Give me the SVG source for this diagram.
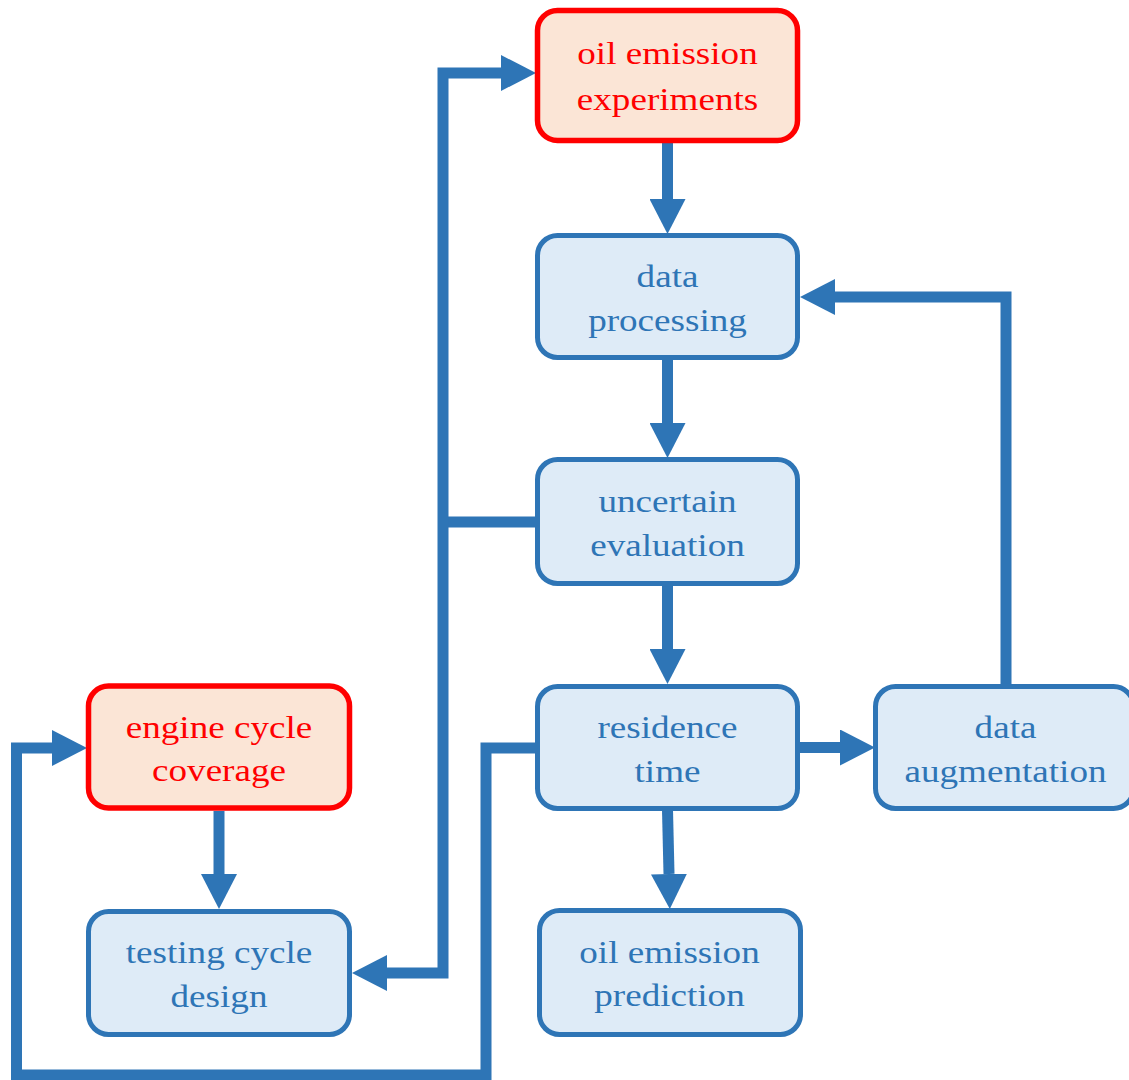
<svg xmlns="http://www.w3.org/2000/svg" width="1129" height="1080" viewBox="0 0 1129 1080">
<style>
.nb rect{fill:#DEEBF7;stroke:#2E75B6;stroke-width:5}
.nr rect{fill:#FBE5D6;stroke:#FF0000;stroke-width:5.5}
text{font-family:"Liberation Serif","Times New Roman",serif;font-size:32px;text-anchor:middle}
.nb text{fill:#2E75B6}
.nr text{fill:#FF0000}
#connectors path{fill:none;stroke:#2E75B6;stroke-width:11;stroke-linejoin:miter}
</style>
<defs>
<marker id="ah" viewBox="0 0 35 36" refX="0" refY="18" markerWidth="35" markerHeight="36" markerUnits="userSpaceOnUse" orient="auto">
<path d="M0,0 L35,18 L0,36 z" fill="#2E75B6"/>
</marker>
</defs>
<rect width="1129" height="1080" fill="#FFFFFF"/>
<g id="connectors">
<path d="M667.5,143 V199" marker-end="url(#ah)"/>
<path d="M667.5,359 V423" marker-end="url(#ah)"/>
<path d="M667.5,585 V649" marker-end="url(#ah)"/>
<path d="M667.5,810 L669,874" marker-end="url(#ah)"/>
<path d="M799,747.5 H840" marker-end="url(#ah)"/>
<path d="M1006,685 V297 H835" marker-end="url(#ah)"/>
<path d="M537,522 H443"/>
<path d="M443,522 V73 H501" marker-end="url(#ah)"/>
<path d="M443,522 V973 H387" marker-end="url(#ah)"/>
<path d="M537,748 H486 V1075 H16.5 V748 H52" marker-end="url(#ah)"/>
<path d="M219,811 V874" marker-end="url(#ah)"/>
</g>
<g id="oil-emission-experiments" class="nr">
<rect x="537.5" y="10.5" width="260" height="130" rx="20"/>
<text transform="translate(667.5,0) scale(1.16,1)"><tspan x="0" y="64">oil emission</tspan><tspan x="0" y="110">experiments</tspan></text>
</g>
<g id="data-processing" class="nb">
<rect x="537.5" y="235.5" width="260" height="122" rx="20"/>
<text transform="translate(667.5,0) scale(1.16,1)"><tspan x="0" y="287">data</tspan><tspan x="0" y="331">processing</tspan></text>
</g>
<g id="uncertain-evaluation" class="nb">
<rect x="537.5" y="459.5" width="260" height="124" rx="20"/>
<text transform="translate(667.5,0) scale(1.16,1)"><tspan x="0" y="512.5">uncertain</tspan><tspan x="0" y="556.5">evaluation</tspan></text>
</g>
<g id="residence-time" class="nb">
<rect x="537.5" y="686.5" width="260" height="122" rx="20"/>
<text transform="translate(667.5,0) scale(1.16,1)"><tspan x="0" y="738">residence</tspan><tspan x="0" y="782">time</tspan></text>
</g>
<g id="data-augmentation" class="nb">
<rect x="875.5" y="686.5" width="258" height="122" rx="20"/>
<text transform="translate(1005.5,0) scale(1.16,1)"><tspan x="0" y="738">data</tspan><tspan x="0" y="782">augmentation</tspan></text>
</g>
<g id="oil-emission-prediction" class="nb">
<rect x="539.5" y="910.5" width="261" height="124" rx="20"/>
<text transform="translate(669.5,0) scale(1.16,1)"><tspan x="0" y="963">oil emission</tspan><tspan x="0" y="1006">prediction</tspan></text>
</g>
<g id="engine-cycle-coverage" class="nr">
<rect x="88.5" y="686" width="261" height="122" rx="20"/>
<text transform="translate(219,0) scale(1.16,1)"><tspan x="0" y="738">engine cycle</tspan><tspan x="0" y="781">coverage</tspan></text>
</g>
<g id="testing-cycle-design" class="nb">
<rect x="88.5" y="911.5" width="261" height="123" rx="20"/>
<text transform="translate(219,0) scale(1.16,1)"><tspan x="0" y="963">testing cycle</tspan><tspan x="0" y="1007">design</tspan></text>
</g>
</svg>
